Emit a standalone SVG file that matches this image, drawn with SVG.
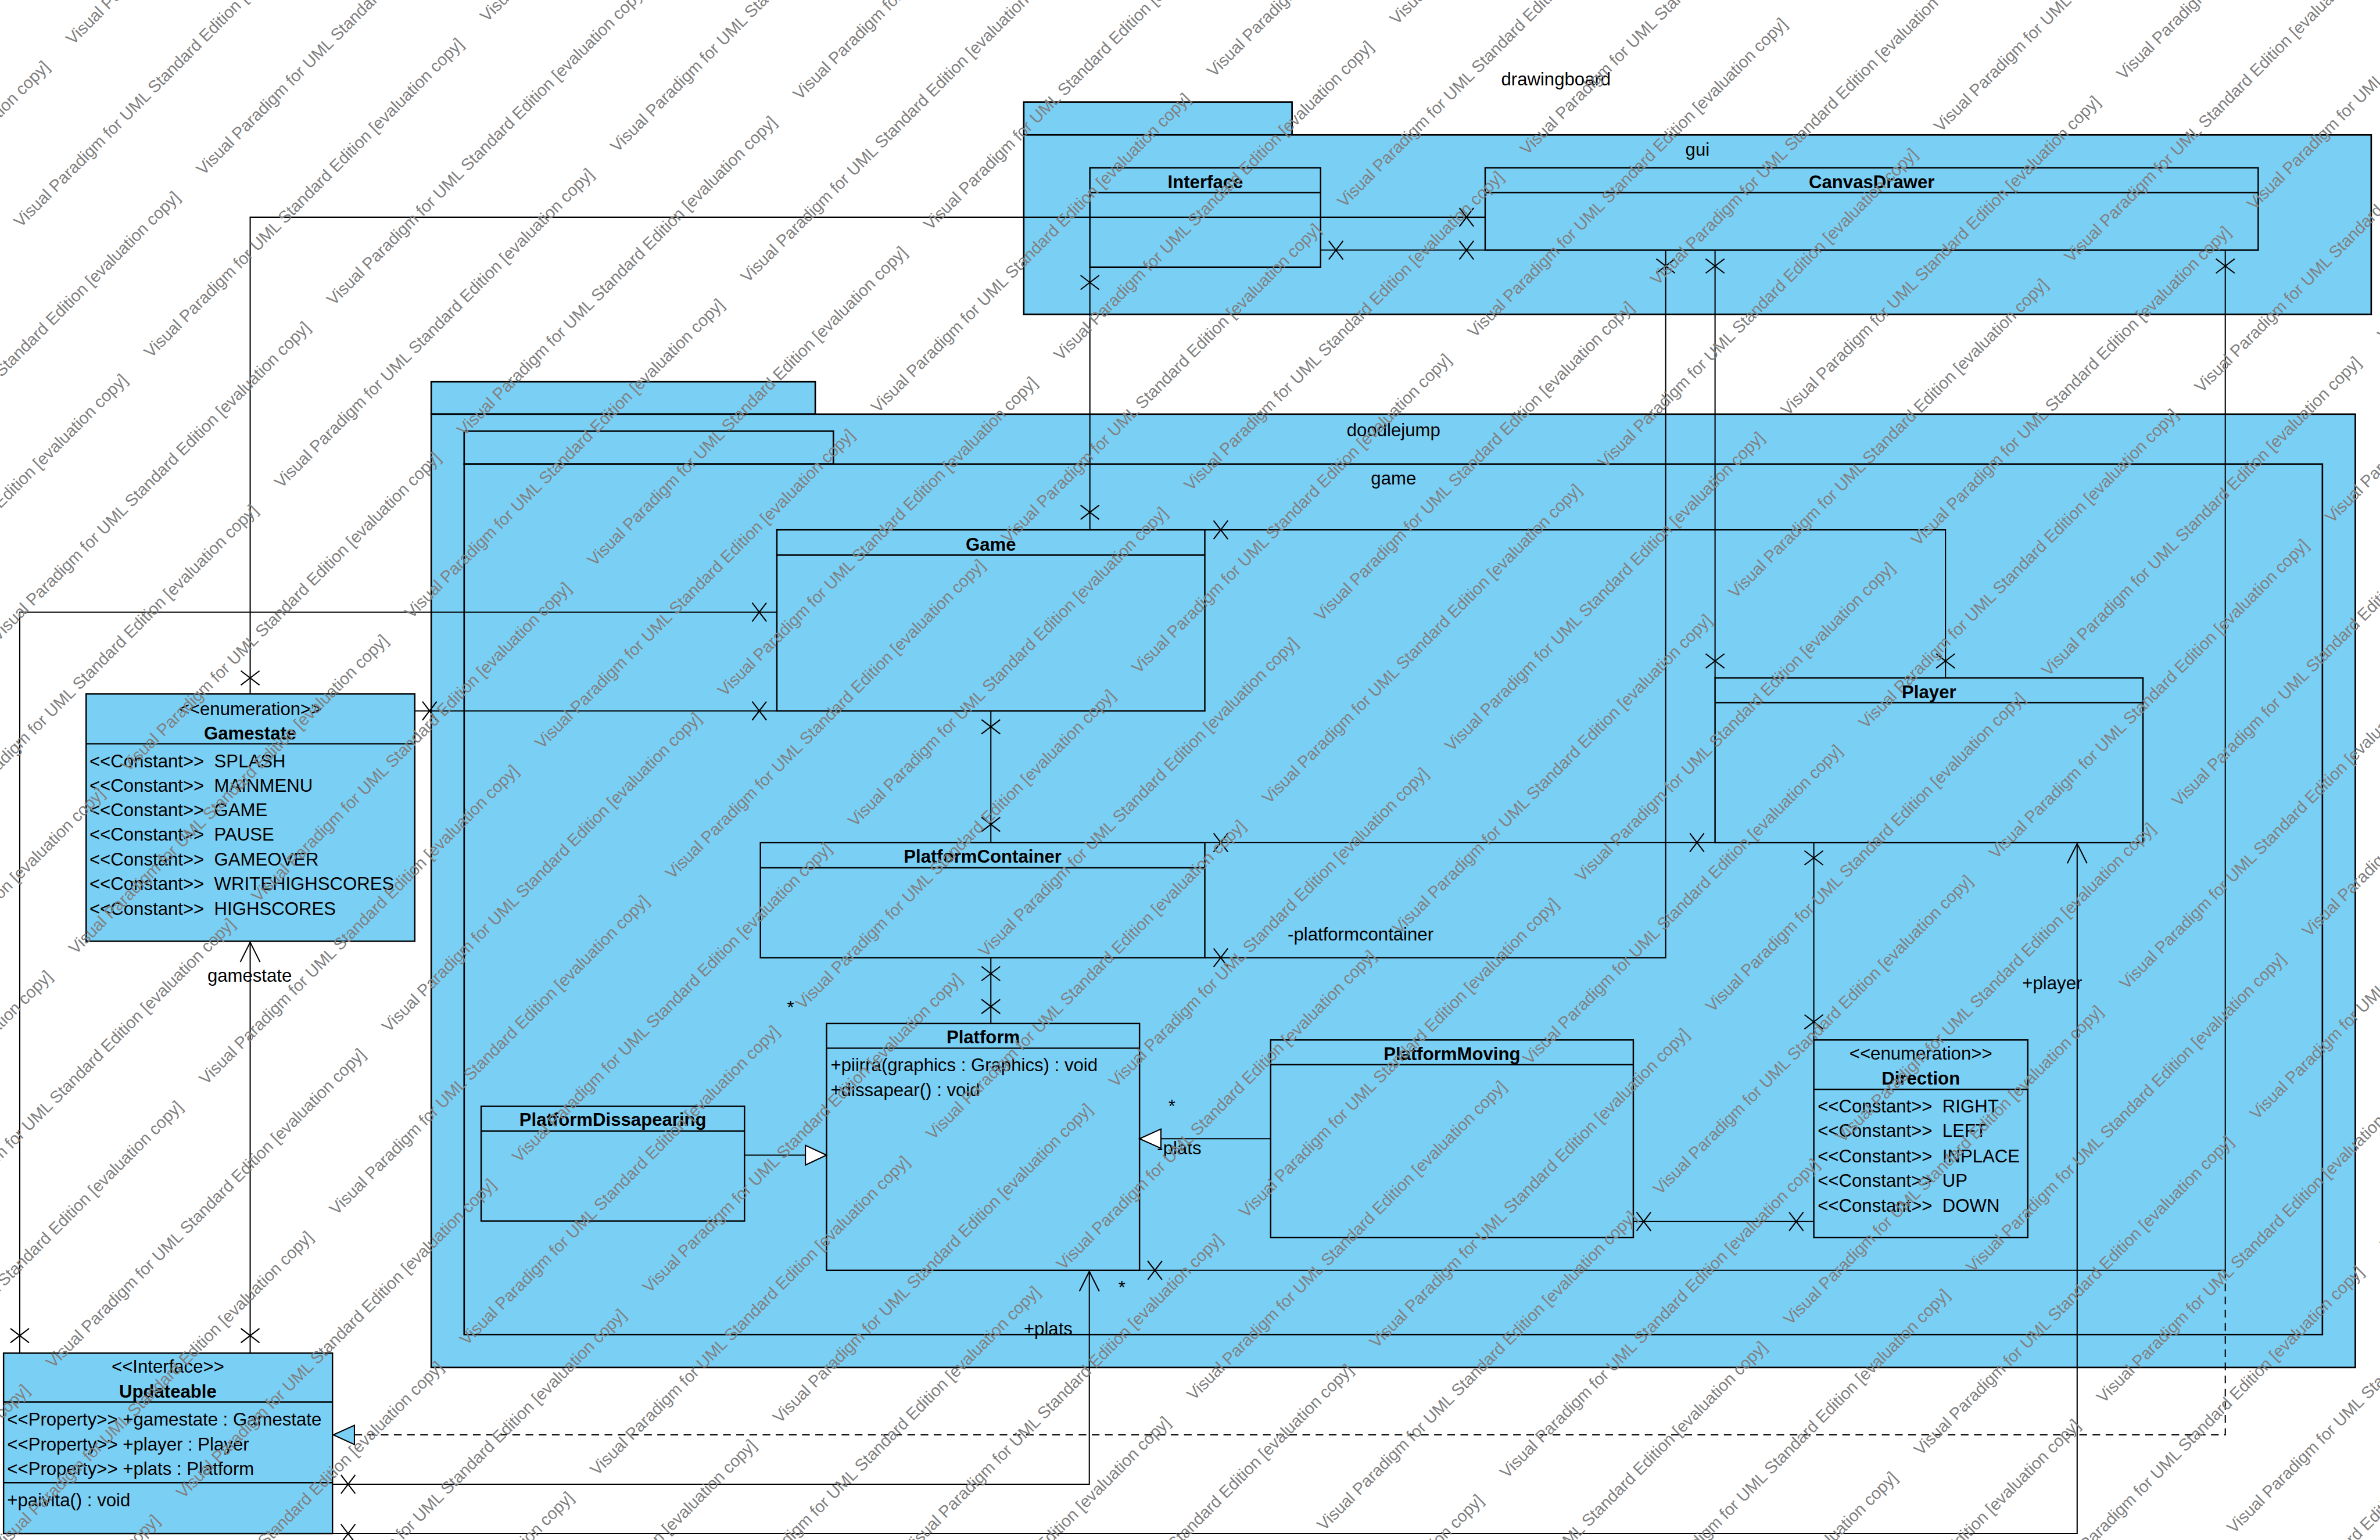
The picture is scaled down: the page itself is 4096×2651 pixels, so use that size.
<svg xmlns="http://www.w3.org/2000/svg" width="4096" height="2651" viewBox="0 0 4096 2651">
<style>
.pk{fill:#7ACFF5;stroke:#000;stroke-width:2.8}
.bx{fill:#7ACFF5;stroke:#000;stroke-width:2.6}
.sep{stroke:#000;stroke-width:2.6;fill:none}
.ln{fill:none;stroke:#000;stroke-width:2.2}
.dash{fill:none;stroke:#000;stroke-width:2.2;stroke-dasharray:14 10}
.tri{fill:#fff;stroke:#000;stroke-width:2.2}
.trib{fill:#7ACFF5;stroke:#000;stroke-width:2.2}
text{font-family:"Liberation Sans",Arial,sans-serif;font-size:33px;fill:#000}
.b{font-weight:bold}
.m{text-anchor:middle}
.wm{font-size:30.5px;fill:#808080}
</style>
<defs>
<path id="xv" class="ln" d="M-17,-13L17,13M-17,13L17,-13"/>
<path id="xh" class="ln" d="M-13,-17L13,17M-13,17L13,-17"/>
<text id="wm" class="wm">Visual Paradigm for UML Standard Edition [evaluation copy]</text>
<g id="wr"><use href="#wm" x="-2598"/><use href="#wm" x="-1732"/><use href="#wm" x="-866"/><use href="#wm"/><use href="#wm" x="866"/><use href="#wm" x="1732"/><use href="#wm" x="2598"/></g>
</defs>
<rect width="4096" height="2651" fill="#fff"/>
<g transform="scale(0.944214)">
<g id="packages">
<g id="pkg-drawingboard"><text class="m" x="2836" y="156">drawingboard</text></g>
<g id="pkg-gui"><rect class="pk" x="1866" y="186" width="489" height="60"/><rect class="pk" x="1866" y="246" width="2456" height="327"/><text class="m" x="3094" y="284">gui</text></g>
<g id="pkg-doodlejump"><rect class="pk" x="786" y="696" width="700" height="59"/><rect class="pk" x="786" y="755" width="3507" height="1738"/><text class="m" x="2540" y="795">doodlejump</text></g>
<g id="pkg-game"><rect class="pk" x="846" y="786" width="673" height="60"/><rect class="pk" x="846" y="846" width="3387" height="1587"/><text class="m" x="2540" y="883">game</text></g>
</g>
<g id="node-Interface"><rect class="bx" x="1986.5" y="306" width="420.5" height="181"/><line class="sep" x1="1986.5" y1="351" x2="2407" y2="351"/><text class="b m" x="2197" y="343">Interface</text></g>
<g id="node-CanvasDrawer"><rect class="bx" x="2707" y="306" width="1409" height="150"/><line class="sep" x1="2707" y1="351" x2="4116" y2="351"/><text class="b m" x="3411.5" y="343">CanvasDrawer</text></g>
<g id="node-Gamestate"><rect class="bx" x="157" y="1265" width="599" height="451"/><line class="sep" x1="157" y1="1356" x2="756" y2="1356"/>
<text class="m" x="456" y="1304">&lt;&lt;enumeration&gt;&gt;</text><text class="b m" x="456" y="1348">Gamestate</text>
<text x="163" y="1399" xml:space="preserve">&lt;&lt;Constant&gt;&gt;  SPLASH</text>
<text x="163" y="1443.5" xml:space="preserve">&lt;&lt;Constant&gt;&gt;  MAINMENU</text>
<text x="163" y="1488" xml:space="preserve">&lt;&lt;Constant&gt;&gt;  GAME</text>
<text x="163" y="1533" xml:space="preserve">&lt;&lt;Constant&gt;&gt;  PAUSE</text>
<text x="163" y="1578" xml:space="preserve">&lt;&lt;Constant&gt;&gt;  GAMEOVER</text>
<text x="163" y="1623" xml:space="preserve">&lt;&lt;Constant&gt;&gt;  WRITEHIGHSCORES</text>
<text x="163" y="1668.5" xml:space="preserve">&lt;&lt;Constant&gt;&gt;  HIGHSCORES</text></g>
<g id="node-Game"><rect class="bx" x="1416" y="966" width="780" height="330"/><line class="sep" x1="1416" y1="1012" x2="2196" y2="1012"/><text class="b m" x="1806" y="1004">Game</text></g>
<g id="node-Player"><rect class="bx" x="3126" y="1236" width="780" height="300"/><line class="sep" x1="3126" y1="1281" x2="3906" y2="1281"/><text class="b m" x="3516" y="1273">Player</text></g>
<g id="node-PlatformContainer"><rect class="bx" x="1386" y="1536" width="810" height="210"/><line class="sep" x1="1386" y1="1582" x2="2196" y2="1582"/><text class="b m" x="1791" y="1573">PlatformContainer</text></g>
<g id="node-Platform"><rect class="bx" x="1506.5" y="1866" width="570.5" height="450"/><line class="sep" x1="1506.5" y1="1911" x2="2077" y2="1911"/><text class="b m" x="1792" y="1902">Platform</text>
<text x="1514" y="1953">+piirra(graphics : Graphics) : void</text><text x="1514" y="1998">+dissapear() : void</text></g>
<g id="node-PlatformDissapearing"><rect class="bx" x="877" y="2017" width="480" height="209"/><line class="sep" x1="877" y1="2062" x2="1357" y2="2062"/><text class="b m" x="1117" y="2053">PlatformDissapearing</text></g>
<g id="node-PlatformMoving"><rect class="bx" x="2316" y="1896" width="661" height="360"/><line class="sep" x1="2316" y1="1941" x2="2977" y2="1941"/><text class="b m" x="2646.5" y="1933">PlatformMoving</text></g>
<g id="node-Direction"><rect class="bx" x="3306" y="1896" width="390" height="360"/><line class="sep" x1="3306" y1="1986" x2="3696" y2="1986"/>
<text class="m" x="3501" y="1932">&lt;&lt;enumeration&gt;&gt;</text><text class="b m" x="3501" y="1977">Direction</text>
<text x="3313" y="2028" xml:space="preserve">&lt;&lt;Constant&gt;&gt;  RIGHT</text>
<text x="3313" y="2073" xml:space="preserve">&lt;&lt;Constant&gt;&gt;  LEFT</text>
<text x="3313" y="2119" xml:space="preserve">&lt;&lt;Constant&gt;&gt;  INPLACE</text>
<text x="3313" y="2164" xml:space="preserve">&lt;&lt;Constant&gt;&gt;  UP</text>
<text x="3313" y="2209" xml:space="preserve">&lt;&lt;Constant&gt;&gt;  DOWN</text></g>
<g id="node-Updateable"><rect class="bx" x="6.5" y="2467" width="599.5" height="329"/><line class="sep" x1="6.5" y1="2556" x2="606" y2="2556"/><line class="sep" x1="6.5" y1="2703" x2="606" y2="2703"/>
<text class="m" x="306" y="2503">&lt;&lt;Interface&gt;&gt;</text><text class="b m" x="306" y="2548">Updateable</text>
<text x="13" y="2599.5">&lt;&lt;Property&gt;&gt; +gamestate : Gamestate</text>
<text x="13" y="2644.5">&lt;&lt;Property&gt;&gt; +player : Player</text>
<text x="13" y="2689.5">&lt;&lt;Property&gt;&gt; +plats : Platform</text>
<text x="13" y="2746">+paivita() : void</text></g>
<g id="connectors">
<path class="ln" d="M456,1265V396H2707"/>
<path class="ln" d="M2407,456H2707"/>
<path class="ln" d="M1986.5,487V966"/>
<path class="ln" d="M3036,456V1746H2196"/>
<path class="ln" d="M3126,456V1236"/>
<path class="ln" d="M4056,456V2316H2077"/>
<path class="ln" d="M2196,966H3546V1236"/>
<path class="ln" d="M756,1296H1416"/>
<path class="ln" d="M1416,1116H36V2467"/>
<path class="ln" d="M1806,1296V1536"/>
<path class="ln" d="M2196,1536H3126"/>
<path class="ln" d="M1806,1746V1866"/>
<path class="ln" d="M1357,2106H1468"/>
<path class="tri" d="M1506.5,2106L1468,2088L1468,2124Z"/>
<path class="ln" d="M2316,2076H2116"/>
<path class="tri" d="M2077,2076L2116,2058.5L2116,2093.5Z"/>
<path class="ln" d="M2977,2227H3306"/>
<path class="ln" d="M3306,1536V1896"/>
<path class="ln" d="M606,2706H1985.5V2318"/>
<path class="ln" d="M1967.5,2354L1985.5,2318L2003.5,2354"/>
<path class="ln" d="M606,2796H3786V1538"/>
<path class="ln" d="M3768,1574L3786,1538L3804,1574"/>
<path class="ln" d="M456,2467V1718"/>
<path class="ln" d="M438,1754L456,1718L474,1754"/>
<path class="dash" d="M4056,2316V2616H646"/>
<path class="trib" d="M607.5,2616L646,2598.5L646,2633.5Z"/>
<use href="#xv" x="456" y="1236"/>
<use href="#xv" x="1986.5" y="515"/>
<use href="#xv" x="1986.5" y="934"/>
<use href="#xv" x="3036" y="485"/>
<use href="#xv" x="3126" y="485"/>
<use href="#xv" x="4056" y="485"/>
<use href="#xv" x="3126" y="1205"/>
<use href="#xv" x="3546" y="1205"/>
<use href="#xv" x="1806" y="1325"/>
<use href="#xv" x="1806" y="1503"/>
<use href="#xv" x="1806" y="1775"/>
<use href="#xv" x="1806" y="1835"/>
<use href="#xv" x="3306" y="1564"/>
<use href="#xv" x="3306" y="1863"/>
<use href="#xv" x="36" y="2435"/>
<use href="#xv" x="456" y="2435"/>
<use href="#xh" x="2673" y="396"/>
<use href="#xh" x="2435" y="456"/>
<use href="#xh" x="2673" y="456"/>
<use href="#xh" x="783" y="1296"/>
<use href="#xh" x="1384" y="1296"/>
<use href="#xh" x="1384" y="1116"/>
<use href="#xh" x="2225" y="966"/>
<use href="#xh" x="2225" y="1536"/>
<use href="#xh" x="3093" y="1536"/>
<use href="#xh" x="2225" y="1746"/>
<use href="#xh" x="2105" y="2316"/>
<use href="#xh" x="2996" y="2227"/>
<use href="#xh" x="3274" y="2227"/>
<use href="#xh" x="634.5" y="2706"/>
<use href="#xh" x="634.5" y="2796"/>
<text x="2347" y="1715">-platformcontainer</text>
<text x="3686" y="1804">+player</text>
<text x="1866" y="2434">+plats</text>
<text x="2109" y="2104">-plats</text>
<text x="378" y="1790">gamestate</text>
<text class="m" x="1441" y="1848">*</text>
<text class="m" x="2136" y="2028">*</text>
<text class="m" x="2045" y="2359">*</text>
</g>
<g id="watermark">
<use href="#wr" transform="translate(133,83) rotate(-45)"/>
<use href="#wr" transform="translate(370.6,320.6) rotate(-45)"/>
<use href="#wr" transform="translate(608.2,558.2) rotate(-45)"/>
<use href="#wr" transform="translate(845.8,795.8) rotate(-45)"/>
<use href="#wr" transform="translate(1083.4,1033.4) rotate(-45)"/>
<use href="#wr" transform="translate(1321,1271) rotate(-45)"/>
<use href="#wr" transform="translate(1558.5,1508.5) rotate(-45)"/>
<use href="#wr" transform="translate(1796.1,1746.1) rotate(-45)"/>
<use href="#wr" transform="translate(2033.7,1983.7) rotate(-45)"/>
<use href="#wr" transform="translate(2271.3,2221.3) rotate(-45)"/>
<use href="#wr" transform="translate(2508.9,2458.9) rotate(-45)"/>
<use href="#wr" transform="translate(2746.5,2696.5) rotate(-45)"/>
<use href="#wr" transform="translate(2984.1,2934.1) rotate(-45)"/>
<use href="#wr" transform="translate(3221.7,3171.7) rotate(-45)"/>
<use href="#wr" transform="translate(3459.3,3409.3) rotate(-45)"/>
<use href="#wr" transform="translate(649.9,-196.3) rotate(-45)"/>
<use href="#wr" transform="translate(887.5,41.3) rotate(-45)"/>
<use href="#wr" transform="translate(1125.1,278.9) rotate(-45)"/>
<use href="#wr" transform="translate(1362.7,516.5) rotate(-45)"/>
<use href="#wr" transform="translate(1600.3,754.1) rotate(-45)"/>
<use href="#wr" transform="translate(1837.9,991.7) rotate(-45)"/>
<use href="#wr" transform="translate(2075.4,1229.2) rotate(-45)"/>
<use href="#wr" transform="translate(2313,1466.8) rotate(-45)"/>
<use href="#wr" transform="translate(2550.6,1704.4) rotate(-45)"/>
<use href="#wr" transform="translate(2788.2,1942) rotate(-45)"/>
<use href="#wr" transform="translate(3025.8,2179.6) rotate(-45)"/>
<use href="#wr" transform="translate(3263.4,2417.2) rotate(-45)"/>
<use href="#wr" transform="translate(3501,2654.8) rotate(-45)"/>
<use href="#wr" transform="translate(3738.6,2892.4) rotate(-45)"/>
<use href="#wr" transform="translate(3976.2,3130) rotate(-45)"/>
</g>
</g>
</svg>
